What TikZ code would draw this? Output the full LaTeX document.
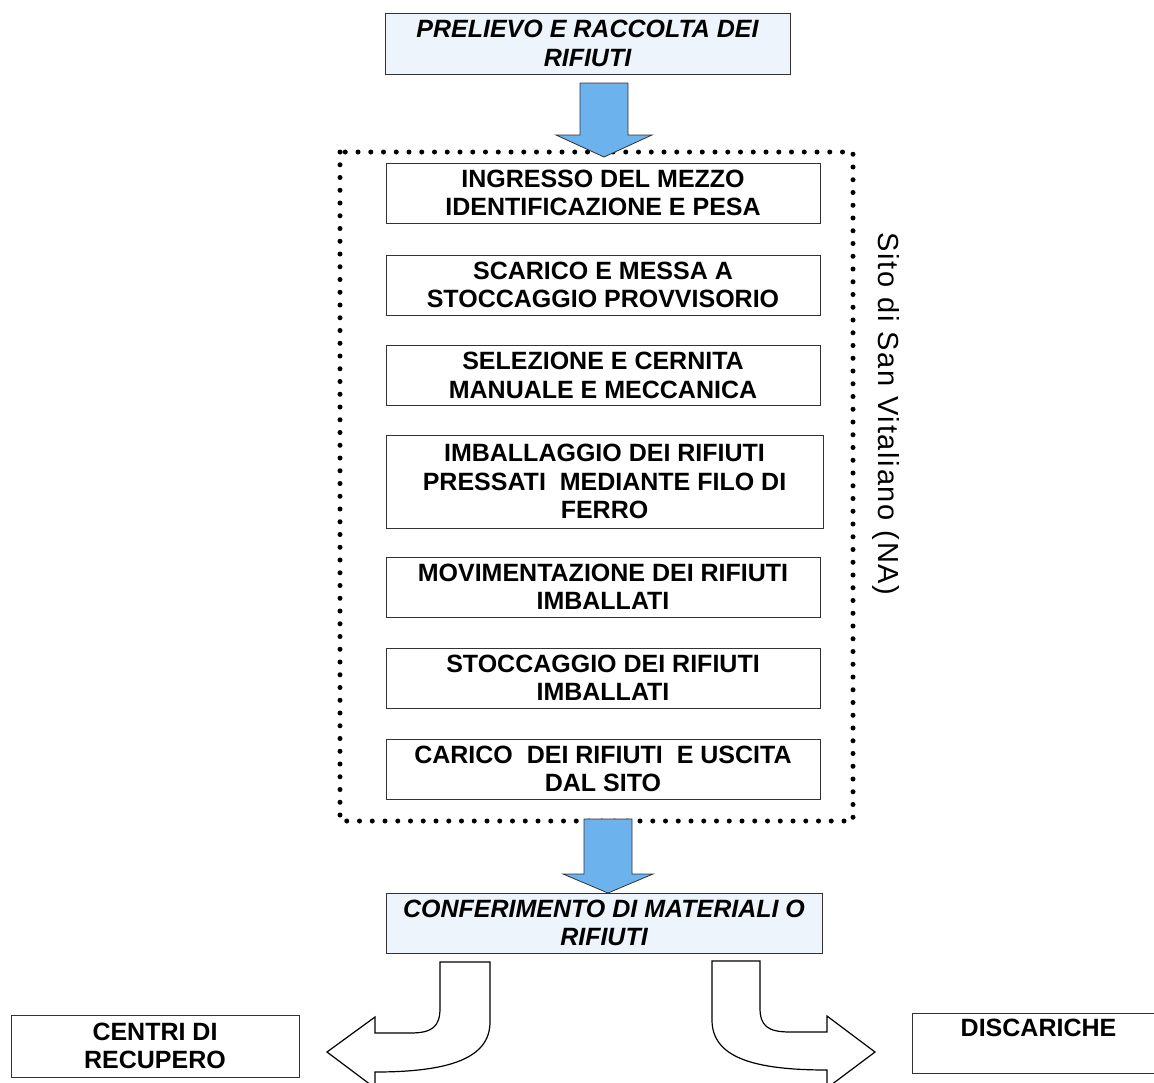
\documentclass[tikz,border=0pt]{standalone}
\usepackage{fontspec}
\setmainfont{Liberation Sans}
\newfontfamily\sidefont[LetterSpace=6]{Liberation Sans}
\definecolor{boxblue}{RGB}{238,244,251}
\definecolor{arrblue}{RGB}{108,178,236}
\definecolor{edge}{RGB}{50,50,50}
\begin{document}
\begin{tikzpicture}[x=1pt,y=-1pt,
  stepbox/.style={draw=edge, line width=1pt, minimum width=434pt, minimum height=60pt,
    align=center, inner sep=0pt, font=\fontsize{25}{28.5}\selectfont\bfseries},
  headbox/.style={stepbox, fill=boxblue, font=\fontsize{25}{28.5}\selectfont\bfseries\itshape},
  blockarrow/.style={draw=edge, line width=0.8pt, fill=arrblue, line join=miter},
  bentarrow/.style={draw=black, line width=1.2pt, fill=white, line join=miter},
  dotframe/.style={line width=5pt, line cap=round, dash pattern=on 0pt off 12.75pt}
]
\useasboundingbox (0,0) rectangle (1154,1082);

% top box
\node[headbox, minimum width=405pt, minimum height=61pt] (prelievo) at (587.5,43.5)
  {PRELIEVO E RACCOLTA DEI\\RIFIUTI};

% dotted site frame
\draw[dotframe] (340,152) rectangle (853,821);
\node[rotate=-90, font=\sidefont\fontsize{29}{31}\selectfont] (sito) at (886,414)
  {Sito di San Vitaliano (NA)};

% inner steps
\node[stepbox] (s1) at (603,193) {INGRESSO DEL MEZZO\\IDENTIFICAZIONE E PESA};
\node[stepbox] (s2) at (603,285) {SCARICO E MESSA A\\STOCCAGGIO PROVVISORIO};
\node[stepbox] (s3) at (603,375.5) {SELEZIONE E CERNITA\\MANUALE E MECCANICA};
\node[stepbox, minimum width=437pt, minimum height=93pt] (s4) at (604.5,481.5)
  {IMBALLAGGIO DEI RIFIUTI\\PRESSATI\ \ MEDIANTE FILO DI\\FERRO};
\node[stepbox] (s5) at (603,587) {MOVIMENTAZIONE DEI RIFIUTI\\IMBALLATI};
\node[stepbox] (s6) at (603,678) {STOCCAGGIO DEI RIFIUTI\\IMBALLATI};
\node[stepbox] (s7) at (603,769) {CARICO\ \ DEI RIFIUTI\ \ E USCITA\\DAL SITO};

% top block arrow
\draw[blockarrow] (580,83) -- (628,83) -- (628,135) -- (652,135) -- (604,157)
  -- (556,135) -- (580,135) -- cycle;

% bottom box
\node[headbox, minimum width=436pt, minimum height=60pt] (conf) at (604,923)
  {CONFERIMENTO DI MATERIALI O\\RIFIUTI};

% bottom block arrow
\draw[blockarrow] (584,819) -- (632,819) -- (632,874) -- (653,874) -- (608,893)
  -- (563,874) -- (584,874) -- cycle;

% destinations
\node[stepbox, minimum width=288pt, minimum height=62pt] (centri) at (155,1046)
  {CENTRI DI\\RECUPERO};
\node[stepbox, minimum width=252pt, minimum height=60pt, anchor=north west,
  text height=18pt, text depth=32pt] (disc) at (912,1013) {DISCARICHE};

% bent arrow to the left
\draw[bentarrow] (440,962) -- (490,962) -- (490,1022)
  .. controls (490,1058) and (450,1072) .. (375,1072)
  -- (375,1088) -- (327,1052) -- (375,1017) -- (375,1033)
  -- (410,1033) .. controls (432,1033) and (440,1027) .. (440,1008) -- cycle;

% bent arrow to the right
\draw[bentarrow] (760,961) -- (712,961) -- (712,1020)
  .. controls (712,1058) and (755,1070) .. (827,1070)
  -- (827,1088) -- (875,1052) -- (827,1016) -- (827,1032)
  -- (790,1032) .. controls (768,1032) and (760,1026) .. (760,1008) -- cycle;
\end{tikzpicture}
\end{document}
